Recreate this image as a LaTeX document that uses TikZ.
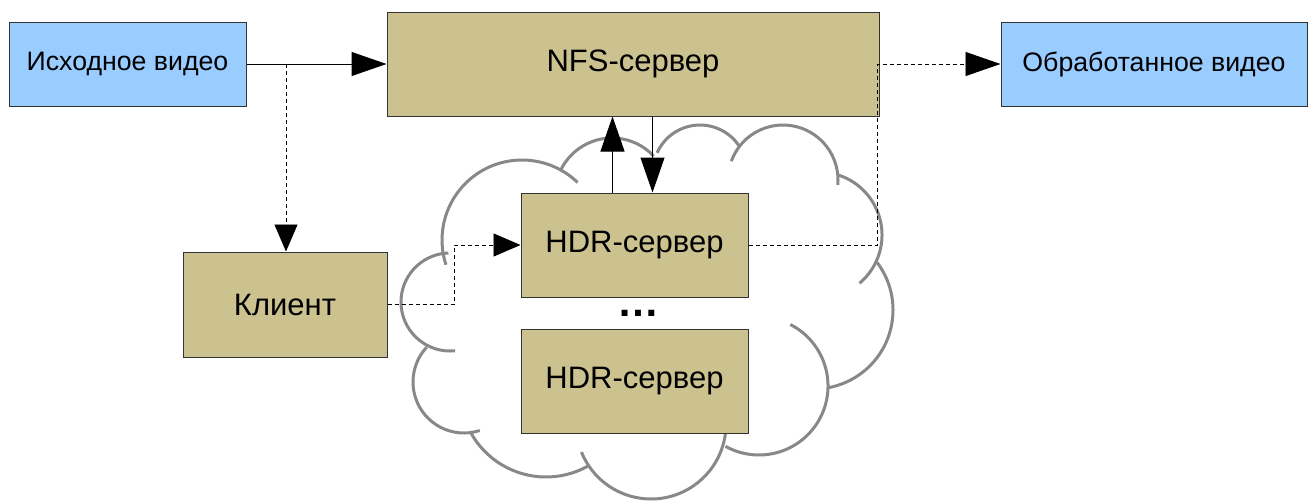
\documentclass[tikz,border=0pt]{standalone}
\usepackage{fontspec}
\setmainfont{Liberation Sans}
\usetikzlibrary{arrows.meta,calc}

\definecolor{videoblue}{HTML}{99CCFF}
\definecolor{servertan}{HTML}{CCC28F}
\definecolor{boxedge}{HTML}{333333}
\definecolor{cloudgray}{HTML}{888888}

\tikzset{
  videobox/.style={draw=boxedge, line width=1pt, fill=videoblue, inner sep=0pt,
    font=\fontsize{26.7}{30}\selectfont},
  serverbox/.style={draw=boxedge, line width=1pt, fill=servertan, inner sep=0pt,
    font=\fontsize{31}{35}\selectfont},
  bigtip/.style={-{Triangle[length=35pt,width=24pt]}},
  smalltip/.style={-{Triangle[length=27pt,width=23pt]}},
  flow/.style={draw=black, line width=1pt},
  control/.style={draw=black, line width=0.9pt, dash pattern=on 4pt off 3pt},
  puff/.style={draw=cloudgray, line width=3pt}
}

\begin{document}
\begin{tikzpicture}[x=1pt, y=-1pt]
  \useasboundingbox (0,0) rectangle (1309,501);

  % cloud of HDR servers, one arc per puff (centre, radius, angles)
  \foreach \cx/\cy/\r/\a/\b in {
      522/240/80/46/198,
      612/195/57/155/43,
      700/172/47/156/34,
      783/180/55/160/-5,
      819/235/63/73/-50,
      814/310/79/37/-80,
      759/386/69/63/-119,
      651/424/75/-7/-158,
      546/391/86/-61/-152,
      464/382/51/-72/-223,
      450/302/49/-84/-268}
    \draw[puff] ([shift={(\cx,\cy)}]\a:\r pt) arc[start angle=\a, end angle=\b, radius=\r pt];

  % boxes
  \node[videobox, minimum width=237pt, minimum height=84pt] (src) at (127.5,64) {Исходное видео};
  \node[serverbox, minimum width=492pt, minimum height=104pt] (nfs) at (633,64) {NFS-сервер};
  \node[videobox, minimum width=306pt, minimum height=84pt] (out) at (1154,64) {Обработанное видео};
  \node[serverbox, minimum width=204pt, minimum height=105pt] (client) at (285,304.5) {Клиент};
  \node[serverbox, minimum width=227pt, minimum height=104pt] (hdr1) at (634.5,245) {HDR-сервер};
  \node[serverbox, minimum width=227pt, minimum height=104pt] (hdr2) at (634.5,381) {HDR-сервер};
  \node[font=\fontsize{42}{42}\selectfont\bfseries, inner sep=0pt] (dots) at (638,313) {…};

  % auxiliary turning points
  \coordinate (split) at (286,64);
  \coordinate (jog) at (454,275);
  \coordinate (riser) at (877,64);

  % connectors
  \draw[flow, bigtip] (src.east) -- (nfs.west);
  \draw[control, smalltip] (split) -- (split |- client.north);
  \draw[control, smalltip] (client.east) -| (jog) |- (hdr1.west);
  \draw[flow, bigtip] ([xshift=-22pt]hdr1.north) -- ([xshift=-22pt]hdr1.north |- nfs.south);
  \draw[flow, bigtip] ([xshift=18pt]hdr1.north |- nfs.south) -- ([xshift=18pt]hdr1.north);
  \draw[control, bigtip] (hdr1.east) -| (riser) -- (out.west);
\end{tikzpicture}
\end{document}
